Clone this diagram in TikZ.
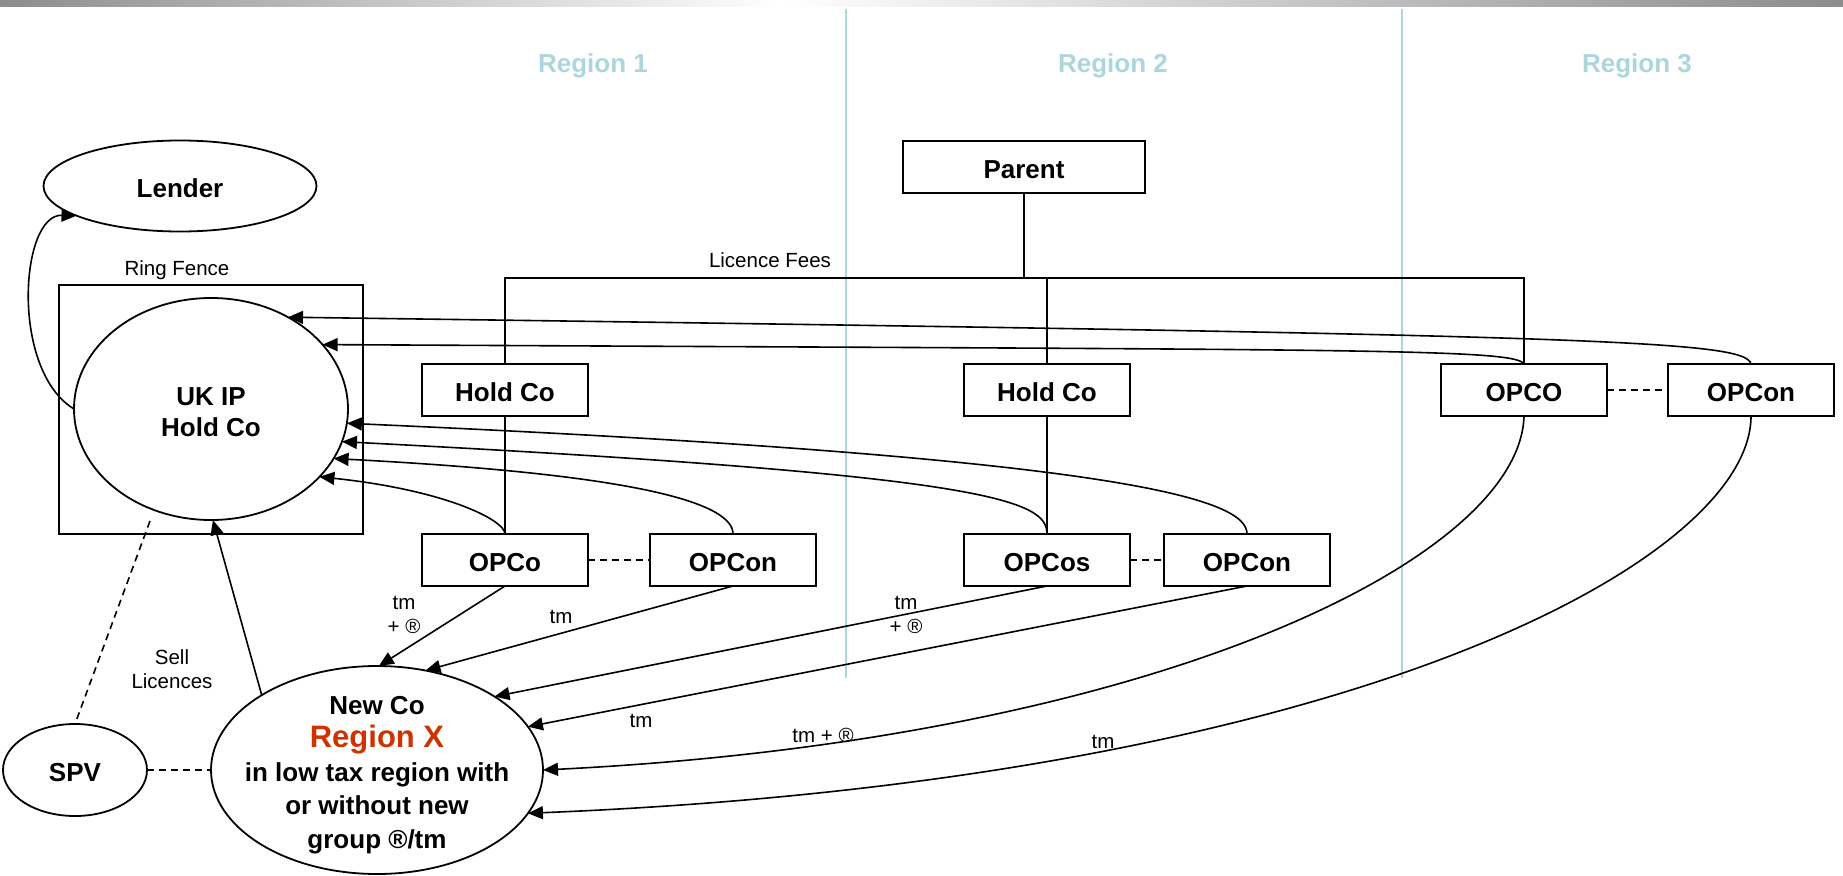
\documentclass[tikz,border=0pt]{standalone}
\usepackage{fontspec}
\setmainfont{Liberation Sans}
\usetikzlibrary{arrows.meta,shapes.geometric}
\definecolor{regblue}{RGB}{172,214,222}
\definecolor{regred}{RGB}{204,51,0}
\begin{document}
\begin{tikzpicture}[x=1pt,y=-1pt,
  every node/.style={inner sep=0pt, outer sep=0pt},
  box/.style={draw, line width=1.8pt, minimum width=166pt, minimum height=52pt, text height=23pt, text depth=0pt, font=\fontsize{26}{30}\selectfont\bfseries},
  oval/.style={draw, ellipse, line width=1.8pt, font=\fontsize{26}{30}\selectfont\bfseries},
  conn/.style={line width=1.6pt},
  arr/.style={line width=1.6pt, -{Triangle[length=15pt,width=13pt]}},
  dsh/.style={line width=1.6pt, dash pattern=on 7pt off 5pt},
  small/.style={font=\fontsize{20.5}{24}\selectfont, align=center},
  region/.style={font=\fontsize{26}{30}\selectfont\bfseries, text=regblue, anchor=base},
  divider/.style={draw=regblue, line width=2pt},
]
\useasboundingbox (0,0) rectangle (1843,875);
% top bar
\shade[left color=black!45, right color=white] (0,0) rectangle (780,7);
\shade[left color=white, right color=black!45] (780,0) rectangle (1843,7);
% region dividers
\draw[divider] (846,9) -- (846,678);
\draw[divider] (1402,9) -- (1402,678);
\node[region] (r1) at (593,72) {Region 1};
\node[region] (r2) at (1113,72) {Region 2};
\node[region] (r3) at (1637,72) {Region 3};
% left side
\node[oval, minimum width=273pt, minimum height=91pt, text height=23pt, text depth=0pt] (lender) at (180,186) {Lender};
\node[draw, line width=1.8pt, minimum width=304pt, minimum height=249pt] (ring) at (211,409.5) {};
\node[small] (ringlab) at (177,270) {Ring Fence};
\node[oval, minimum width=274pt, minimum height=222pt] (ukip) at (211,409) {};
\node[align=center, font=\fontsize{26}{31}\selectfont\bfseries] (ukiptext) at (211,412) {UK IP\\Hold Co};
\node[oval, minimum width=144pt, minimum height=92pt, text height=23pt, text depth=0pt] (spv) at (75,770) {SPV};
\node[oval, minimum width=332pt, minimum height=208pt] (newco) at (377,770) {};
\node[align=center, font=\fontsize{26}{33.5}\selectfont\bfseries] (newcotext) at (377,775)
  {New Co\\{\color{regred}\fontsize{31}{35}\selectfont Region X}\\in low tax region with\\or without new\\group ®/tm};
% boxes
\node[box, minimum width=242pt] (parent) at (1024,167) {Parent};
\node[box] (hold1) at (505,390) {Hold Co};
\node[box] (hold2) at (1047,390) {Hold Co};
\node[box] (opco3) at (1524,390) {OPCO};
\node[box] (opcon3) at (1751,390) {OPCon};
\node[box] (opco1) at (505,560) {OPCo};
\node[box] (opcon1) at (733,560) {OPCon};
\node[box] (opcos2) at (1047,560) {OPCos};
\node[box] (opcon2) at (1247,560) {OPCon};
% ownership tree
\coordinate (bus) at (1024,278);
\draw[conn] (hold1.north) |- (bus) -| (opco3.north);
\draw[conn] (parent.south) -- (bus);
\draw[conn] (hold2.north) -- (hold2.north |- bus);
\draw[conn] (hold1.south) -- (opco1.north);
\draw[conn] (hold2.south) -- (opcos2.north);
\node[small] (fees) at (770,260) {Licence Fees};
% dashed links
\draw[dsh] (opco1.east) -- (opcon1.west);
\draw[dsh] (opcos2.east) -- (opcon2.west);
\draw[dsh] (opco3.east) -- (opcon3.west);
\draw[dsh] (spv.east) -- (newco.west);
\coordinate (ringS) at (150,521);
\draw[dsh] (ringS) -- (spv.north);
\node[small] (sell) at (172,669) {Sell\\Licences};
% lender arrow
\draw[arr] (ukip.180) .. controls (10,370) and (20,214) .. (lender.196);
% new co -> uk ip
\draw[arr] (newco.147) -- (ukip.-89);
% licence fee arrows into UK IP
\draw[arr] (opco1.north) .. controls (505,520) and (445,490) .. (ukip.-32);
\draw[arr] (opcon1.north) .. controls (733,505) and (650,475) .. (ukip.-22);
\draw[arr] (opcos2.north) .. controls (1047,500) and (990,475) .. (ukip.-14);
\draw[arr] (opcon2.north) .. controls (1247,500) and (1135,458) .. (ukip.-6);
\draw[arr] (opco3.north) .. controls (1515,348) and (1350,350) .. (ukip.30);
\draw[arr] (opcon3.north) .. controls (1745,340) and (1600,335) .. (ukip.50);
% tm arrows into New Co
\draw[arr] (opco1.south) -- (newco.89);
\draw[arr] (opcon1.south) -- (newco.64);
\draw[arr] (opcos2.south) -- (newco.32);
\draw[arr] (opcon2.south) -- (newco.16);
\draw[arr] (opco3.south) .. controls (1520,560) and (1150,740) .. (newco.0);
\draw[arr] (opcon3.south) .. controls (1751,560) and (1350,780) .. (newco.-16);
\node[small] (l1) at (404,615) {tm\\+ ®};
\node[small] (l2) at (561,617) {tm};
\node[small] (l3) at (906,615) {tm\\+ ®};
\node[small] (l4) at (641,721) {tm};
\node[small] (l5) at (823,735) {tm + ®};
\node[small] (l6) at (1103,742) {tm};
\end{tikzpicture}
\end{document}
